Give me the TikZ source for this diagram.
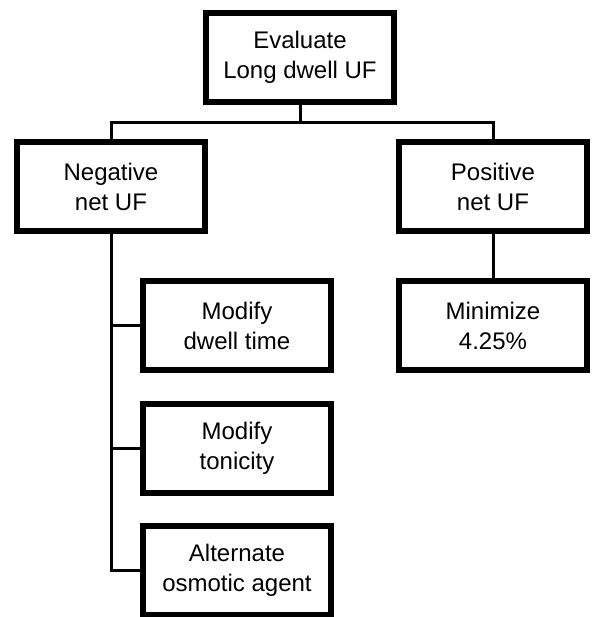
\documentclass[tikz,border=0pt]{standalone}
\usepackage{fontspec}
\setmainfont{Liberation Sans}
\usepackage{tikz}
\usetikzlibrary{positioning}

\tikzset{
  stepbox/.style={draw,line width=3pt,fill=white,align=center,
    minimum width=94pt,minimum height=44.5pt,inner sep=2pt,
    font=\fontsize{12}{15}\selectfont},
  link/.style={line width=1.5pt}
}

\begin{document}
\begin{tikzpicture}[x=0.5pt,y=-0.5pt]
    \useasboundingbox[fill=white] (0,0) rectangle (592,617);

    % top decision
    \node[stepbox] (evaluate) at (300,57) {Evaluate\\Long dwell UF};
    \node[stepbox] (negative) at (111,186.5) {Negative\\net UF};
    \node[stepbox] (positive) at (493,186.5) {Positive\\net UF};
    \coordinate (split) at (300,122);

    % actions
    \node[stepbox] (dwell) at (237,325.5) {Modify\\dwell time};
    \node[stepbox] (tonicity) at (237,448.5) {Modify\\tonicity};
    \node[stepbox] (agent) at (237,570) {Alternate\\osmotic agent};
    \node[stepbox] (minimize) at (493,325.5) {Minimize\\4.25\%};

    \draw[link] (evaluate) -- (split);
    \draw[link] (negative.north) |- (split) -| (positive.north);
    \draw[link] (positive) -- (minimize);
    \draw[link] (negative.south) |- (dwell.west);
    \draw[link] (negative.south) |- (tonicity.west);
    \draw[link] (negative.south) |- (agent.west);
  \end{tikzpicture}
\end{document}
